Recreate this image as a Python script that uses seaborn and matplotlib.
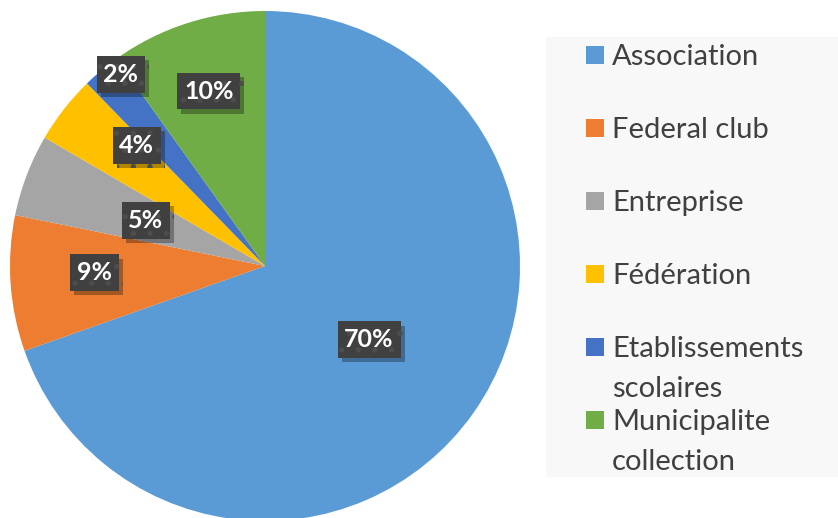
import matplotlib
matplotlib.use("Agg")
import matplotlib.pyplot as plt
import matplotlib.patheffects as pe
from matplotlib.patches import Rectangle
import numpy as np
import seaborn as sns

categories = ["Association", "Federal club", "Entreprise", "Fédération",
              "Etablissements\nscolaires", "Municipalite\ncollection"]
values = [69.6, 8.6, 5.2, 4.3, 2.4, 9.9]
colors = ["#5B9BD5", "#ED7D31", "#A5A5A5", "#FFC000", "#4472C4", "#70AD47"]

# label placement (fraction of radius, angle offset in degrees)
label_r = [0.50, 0.67, 0.50, 0.69, 0.94, 0.72]
label_da = [0, -1.7, 0, -5.3, -3, 0]

sns.set_theme(style="white")
plt.rcParams["font.family"] = ["Lato", "DejaVu Sans"]
plt.rcParams["hatch.linewidth"] = 1.5

W, H = 838, 518
fig = plt.figure(figsize=(W / 100, H / 100), dpi=100)
ax = fig.add_axes([0, 0, 1, 1])

cx, cy, R = 265, H - 266, 255
wedges, _, autotexts = ax.pie(values, colors=colors, startangle=90, counterclock=False,
                              center=(cx, cy), radius=R, autopct="%.0f%%",
                              wedgeprops=dict(linewidth=0), frame=True)
ax.set_xlim(0, W)
ax.set_ylim(0, H)
ax.axis("off")

for w, t, r, da in zip(wedges, autotexts, label_r, label_da):
    ang = np.deg2rad((w.theta1 + w.theta2) / 2 + da)
    t.set_position((cx + r * R * np.cos(ang), cy + r * R * np.sin(ang)))
    t.set_ha("center"); t.set_va("center")
    t.set_color("white"); t.set_fontsize(18); t.set_fontweight("bold")
    t.set_bbox(dict(boxstyle="square,pad=0.27", fc="#404040", ec="#4d4d4d", lw=0, hatch="."))
    t.get_bbox_patch().set_path_effects([
        pe.SimplePatchShadow(offset=(3, -3), shadow_rgbFace="#000000", alpha=0.3),
        pe.Normal()])

# legend panel
ax.add_patch(Rectangle((546, H - 477), 300, 440, fc="#f8f8f8", ec="none", zorder=0))
for i, (lab, col) in enumerate(zip(categories, colors)):
    yc = 55 + 73 * i
    ax.add_patch(Rectangle((586, H - yc - 9), 18, 18, fc=col, ec="none", zorder=2))
    for k, line in enumerate(lab.split("\n")):
        ax.text(612, H - (65 + 73 * i + 40 * k), line, fontsize=21, color="#404040",
                ha="left", va="baseline", zorder=3)

fig.savefig("out.png", dpi=100, facecolor="white")
